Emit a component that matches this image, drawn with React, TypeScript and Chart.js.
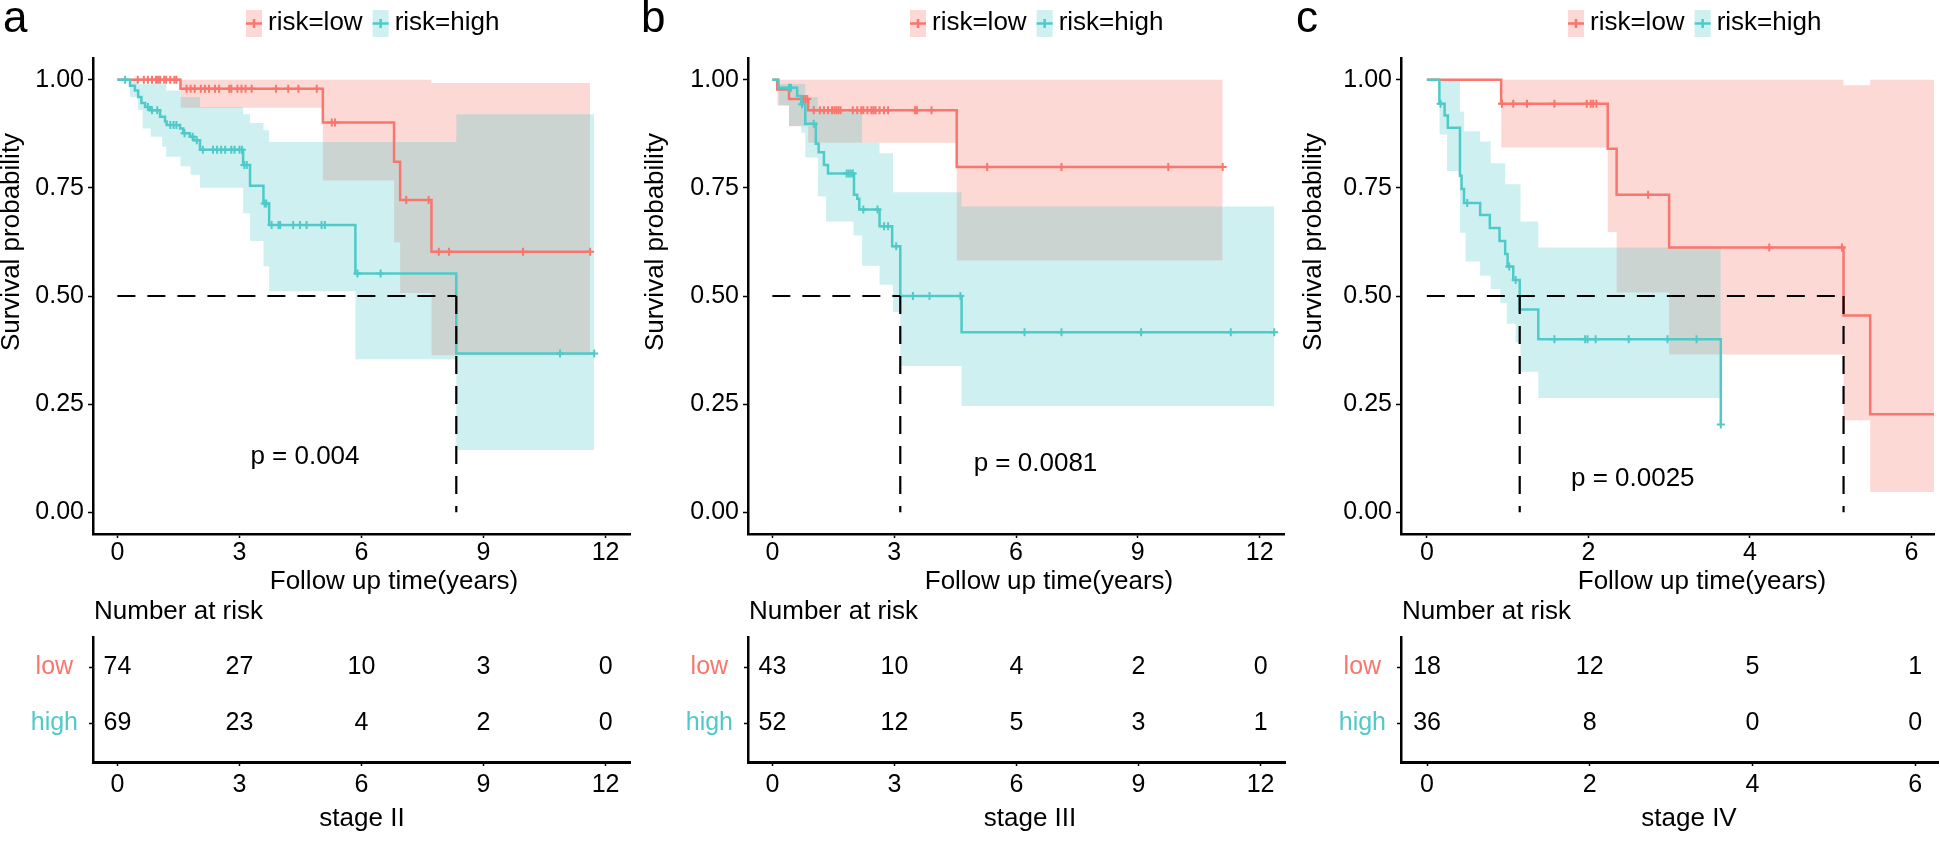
import React, { useEffect, useRef } from "react";
import { Chart, registerables } from "chart.js";

Chart.register(...registerables);

const FONT = "'Liberation Sans', Arial, Helvetica, sans-serif";
const RED = "rgb(248,118,109)";
const TEAL = "rgb(80,202,200)";
const RED_FILL = "rgba(248,118,109,0.28)";
const TEAL_FILL = "rgba(80,202,200,0.28)";

const Y_TICKS = [0, 0.25, 0.5, 0.75, 1];
const GROUP_LABELS = ["risk=low", "risk=high"];
const ROW_LABELS = ["low", "high"];

// ---------- panel a : stage II ----------
const A_LOW_T = [0, 1.55, 5.05, 6.8, 6.95, 7.72, 11.62];
const A_LOW_S = [1, 0.979, 0.901, 0.81, 0.722, 0.602, 0.602];
const A_LOW_CENS = [0.5, 0.65, 0.75, 0.85, 0.95, 1.0, 1.05, 1.15, 1.2, 1.3, 1.4, 1.45, 1.7, 1.8, 1.9, 2.05, 2.15, 2.25, 2.4, 2.5, 2.75, 2.8, 2.95, 3.05, 3.15, 3.3, 3.9, 4.2, 4.45, 4.9, 5.27, 5.35, 7.1, 7.65, 7.9, 8.15, 9.97, 11.62];
const A_LOW_BAND_T = [1.55, 5.05, 6.8, 6.95, 7.72, 11.62];
const A_LOW_BAND_LO = [0.935, 0.767, 0.624, 0.507, 0.363, 0.363];
const A_LOW_BAND_HI = [1, 1, 1, 1, 0.992, 0.992];

const A_HIGH_T = [0, 0.31, 0.43, 0.51, 0.59, 0.68, 0.8, 1.05, 1.17, 1.21, 1.54, 1.62, 1.78, 1.87, 2.03, 3.09, 3.26, 3.59, 3.73, 5.85, 8.33, 11.72];
const A_HIGH_S = [1, 0.986, 0.975, 0.96, 0.946, 0.937, 0.929, 0.914, 0.903, 0.895, 0.887, 0.876, 0.868, 0.86, 0.838, 0.803, 0.755, 0.714, 0.664, 0.552, 0.367, 0.367];
const A_HIGH_CENS = [0.19, 0.75, 0.85, 0.98, 1.3, 1.38, 1.45, 1.65, 1.85, 1.95, 2.1, 2.35, 2.45, 2.55, 2.65, 2.8, 2.88, 3.0, 3.06, 3.12, 3.18, 3.62, 3.66, 3.79, 3.96, 4.0, 4.32, 4.49, 4.65, 5.02, 5.1, 5.9, 6.47, 10.88, 11.72];
const A_HIGH_BAND_T = [0.31, 0.5, 0.62, 0.82, 1.1, 1.2, 1.55, 1.8, 2.03, 3.09, 3.26, 3.59, 3.73, 5.85, 8.33, 11.72];
const A_HIGH_BAND_HI = [1, 0.99, 0.99, 0.99, 0.99, 0.975, 0.96, 0.96, 0.937, 0.92, 0.9, 0.883, 0.856, 0.856, 0.92, 0.92];
const A_HIGH_BAND_LO = [0.96, 0.93, 0.887, 0.868, 0.845, 0.822, 0.8, 0.78, 0.75, 0.691, 0.627, 0.569, 0.511, 0.354, 0.144, 0.144];

const A_MEDIANS = [8.33];
const A_PVALUE = "p = 0.004";
const A_RISK_TIMES = [0, 3, 6, 9, 12];
const A_RISK_LOW = [74, 27, 10, 3, 0];
const A_RISK_HIGH = [69, 23, 4, 2, 0];

// ---------- panel b : stage III ----------
const B_LOW_T = [0, 0.12, 0.41, 0.88, 4.54, 11.09];
const B_LOW_S = [1, 0.977, 0.955, 0.929, 0.798, 0.798];
const B_LOW_CENS = [0.71, 0.76, 0.81, 0.86, 1.02, 1.17, 1.27, 1.37, 1.47, 1.53, 1.58, 1.63, 1.68, 1.98, 2.09, 2.19, 2.24, 2.34, 2.44, 2.49, 2.54, 2.64, 2.75, 2.85, 3.51, 3.56, 3.92, 5.29, 7.12, 9.75, 11.09];
const B_LOW_BAND_T = [0.12, 0.41, 0.88, 4.54, 11.09];
const B_LOW_BAND_LO = [0.94, 0.892, 0.854, 0.582, 0.582];
const B_LOW_BAND_HI = [1, 1, 1, 1, 1];

const B_HIGH_T = [0, 0.15, 0.61, 0.71, 0.81, 1.07, 1.14, 1.27, 1.37, 2.01, 2.09, 2.14, 2.64, 2.95, 3.15, 4.66, 12.36];
const B_HIGH_S = [1, 0.981, 0.962, 0.943, 0.898, 0.852, 0.832, 0.803, 0.783, 0.734, 0.725, 0.7, 0.661, 0.615, 0.5, 0.416, 0.416];
const B_HIGH_CENS = [0.41, 0.46, 0.73, 1.02, 1.83, 1.88, 1.93, 1.98, 2.24, 2.59, 2.75, 2.85, 3.05, 3.46, 3.87, 4.63, 6.21, 7.12, 9.08, 11.29, 12.36];
const B_HIGH_BAND_T = [0.15, 0.41, 0.71, 0.81, 1.12, 1.32, 2.0, 2.21, 2.64, 2.97, 3.15, 4.66, 12.36];
const B_HIGH_BAND_HI = [0.99, 0.99, 0.99, 0.96, 0.93, 0.93, 0.93, 0.854, 0.83, 0.74, 0.74, 0.707, 0.707];
const B_HIGH_BAND_LO = [0.94, 0.893, 0.877, 0.82, 0.73, 0.672, 0.64, 0.57, 0.526, 0.463, 0.338, 0.246, 0.246];

const B_MEDIANS = [3.15];
const B_PVALUE = "p = 0.0081";
const B_RISK_TIMES = [0, 3, 6, 9, 12];
const B_RISK_LOW = [43, 10, 4, 2, 0];
const B_RISK_HIGH = [52, 12, 5, 3, 1];

// ---------- panel c : stage IV ----------
const C_LOW_T = [0, 0.92, 2.24, 2.35, 3.0, 5.16, 5.49, 6.3];
const C_LOW_S = [1, 0.944, 0.84, 0.734, 0.612, 0.455, 0.227, 0.227];
const C_LOW_CENS = [0.93, 1.07, 1.24, 1.58, 1.98, 2.03, 2.06, 2.1, 2.74, 4.24, 5.14];
const C_LOW_BAND_T = [0.92, 2.24, 2.35, 3.0, 5.16, 5.49, 6.3];
const C_LOW_BAND_LO = [0.843, 0.648, 0.508, 0.365, 0.213, 0.047, 0.047];
const C_LOW_BAND_HI = [1, 1, 1, 1, 0.987, 1, 1];

const C_HIGH_T = [0, 0.155, 0.22, 0.26, 0.41, 0.43, 0.46, 0.66, 0.78, 0.9, 0.97, 1.0, 1.07, 1.15, 1.38, 3.64];
const C_HIGH_S = [1, 0.944, 0.917, 0.889, 0.778, 0.747, 0.715, 0.687, 0.657, 0.627, 0.597, 0.568, 0.537, 0.469, 0.4, 0.203];
const C_HIGH_CENS = [0.17, 0.5, 1.02, 1.1, 1.58, 1.96, 1.99, 2.09, 2.5, 2.98, 3.34, 3.64];
const C_HIGH_BAND_T = [0.155, 0.25, 0.41, 0.46, 0.48, 0.66, 0.79, 0.91, 0.97, 0.99, 1.1, 1.16, 1.38, 3.64];
const C_HIGH_BAND_HI = [1, 1, 0.926, 0.881, 0.881, 0.857, 0.807, 0.807, 0.758, 0.758, 0.758, 0.672, 0.612, 0.612];
const C_HIGH_BAND_LO = [0.873, 0.789, 0.646, 0.646, 0.58, 0.547, 0.516, 0.484, 0.484, 0.436, 0.393, 0.325, 0.264, 0.264];

const C_MEDIANS = [1.15, 5.16];
const C_PVALUE = "p = 0.0025";
const C_RISK_TIMES = [0, 2, 4, 6];
const C_RISK_LOW = [18, 12, 5, 1];
const C_RISK_HIGH = [36, 8, 0, 0];

// ---------- panel assembly (layout + references to the arrays above) ----------
const grp = (t: number[], s: number[], cens: number[], bt: number[], lo: number[], hi: number[], color: string, fill: string) =>
  ({ t, s, cens, bandT: bt, bandLo: lo, bandHi: hi, color, fill });

const PANELS: any[] = [
  {
    letter: "a", stage: "stage II",
    low: grp(A_LOW_T, A_LOW_S, A_LOW_CENS, A_LOW_BAND_T, A_LOW_BAND_LO, A_LOW_BAND_HI, RED, RED_FILL),
    high: grp(A_HIGH_T, A_HIGH_S, A_HIGH_CENS, A_HIGH_BAND_T, A_HIGH_BAND_LO, A_HIGH_BAND_HI, TEAL, TEAL_FILL),
    medians: A_MEDIANS, p: A_PVALUE, pX: 4.61, pY: 0.128,
    xMin: -0.6, xMax: 12.6, xTicks: A_RISK_TIMES,
    riskTimes: A_RISK_TIMES, riskLow: A_RISK_LOW, riskHigh: A_RISK_HIGH,
    canvasLeft: 0, canvasWidth: 645, yW: 93, padR: 15, legendX: 246, letterX: 3, yTitleX: 12, stageX: 362,
  },
  {
    letter: "b", stage: "stage III",
    low: grp(B_LOW_T, B_LOW_S, B_LOW_CENS, B_LOW_BAND_T, B_LOW_BAND_LO, B_LOW_BAND_HI, RED, RED_FILL),
    high: grp(B_HIGH_T, B_HIGH_S, B_HIGH_CENS, B_HIGH_BAND_T, B_HIGH_BAND_LO, B_HIGH_BAND_HI, TEAL, TEAL_FILL),
    medians: B_MEDIANS, p: B_PVALUE, pX: 6.48, pY: 0.113,
    xMin: -0.6, xMax: 12.6, xTicks: B_RISK_TIMES,
    riskTimes: B_RISK_TIMES, riskLow: B_RISK_LOW, riskHigh: B_RISK_HIGH,
    canvasLeft: 640, canvasWidth: 650, yW: 108, padR: 5, legendX: 270, letterX: 1, yTitleX: 16, stageX: 390,
  },
  {
    letter: "c", stage: "stage IV",
    low: grp(C_LOW_T, C_LOW_S, C_LOW_CENS, C_LOW_BAND_T, C_LOW_BAND_LO, C_LOW_BAND_HI, RED, RED_FILL),
    high: grp(C_HIGH_T, C_HIGH_S, C_HIGH_CENS, C_HIGH_BAND_T, C_HIGH_BAND_LO, C_HIGH_BAND_HI, TEAL, TEAL_FILL),
    medians: C_MEDIANS, p: C_PVALUE, pX: 2.55, pY: 0.078,
    xMin: -0.32, xMax: 6.28, xTicks: C_RISK_TIMES,
    riskTimes: C_RISK_TIMES, riskLow: C_RISK_LOW, riskHigh: C_RISK_HIGH,
    canvasLeft: 1290, canvasWidth: 650, yW: 111, padR: 2, legendX: 278, letterX: 6, yTitleX: 24, stageX: 399,
  },
];

const KM_H = 600;
const TABLE_TOP = 590;
const TABLE_H = 251;
const LOW_ROW = 0.76;
const HIGH_ROW = 0.31;

const stepAt = (T: number[], S: number[], t: number) => {
  let v = S[0];
  for (let i = 0; i < T.length; i++) if (T[i] <= t) v = S[i];
  return v;
};
const xy = (T: number[], V: number[]) => T.map((t, i) => ({ x: t, y: V[i] }));

const tickFont = { family: FONT, size: 25 };

function kmConfig(P: any) {
  const dash = [18, 12];
  const maxMed = Math.max(...P.medians);
  const dashed = (pts: any[]) => ({
    data: pts, borderColor: "#000", borderWidth: 2.2, borderDash: dash, pointRadius: 0, fill: false,
  });
  const datasets: any[] = [];
  datasets.push(dashed([{ x: 0, y: 0.5 }, { x: maxMed, y: 0.5 }]));
  P.medians.forEach((m: number) => datasets.push(dashed([{ x: m, y: 0.5 }, { x: m, y: 0 }])));
  for (const g of [P.high, P.low]) {
    datasets.push({
      data: g.cens.map((t: number) => ({ x: t, y: stepAt(g.t, g.s, t) })),
      showLine: false, pointStyle: "cross", pointRadius: 4, borderColor: g.color, borderWidth: 2, fill: false,
    });
    datasets.push({
      data: xy(g.t, g.s), stepped: "before", borderColor: g.color, borderWidth: 2.5, pointRadius: 0, fill: false,
    });
  }
  for (const g of [P.high, P.low]) {
    datasets.push({
      data: xy(g.bandT, g.bandHi), stepped: "before", borderWidth: 0, borderColor: "rgba(0,0,0,0)",
      pointRadius: 0, backgroundColor: g.fill, fill: "+1",
    });
    datasets.push({
      data: xy(g.bandT, g.bandLo), stepped: "before", borderWidth: 0, borderColor: "rgba(0,0,0,0)",
      pointRadius: 0, fill: false,
    });
  }

  const textPlugin = {
    id: "kmText",
    afterDraw(chart: any) {
      const ctx = chart.ctx;
      const a = chart.chartArea;
      ctx.save();
      ctx.fillStyle = "#000";
      ctx.textAlign = "left";
      ctx.textBaseline = "alphabetic";
      ctx.font = `44px ${FONT}`;
      ctx.fillText(P.letter, P.letterX, 32);
      // legend
      ctx.font = `26px ${FONT}`;
      let x = P.legendX;
      [[P.low, GROUP_LABELS[0]], [P.high, GROUP_LABELS[1]]].forEach(([g, lab]: any) => {
        ctx.fillStyle = g.fill;
        ctx.fillRect(x, 10, 16, 27);
        ctx.strokeStyle = g.color;
        ctx.lineWidth = 2.5;
        ctx.beginPath();
        ctx.moveTo(x, 23.5);
        ctx.lineTo(x + 16, 23.5);
        ctx.moveTo(x + 8, 19);
        ctx.lineTo(x + 8, 28);
        ctx.stroke();
        ctx.fillStyle = "#000";
        ctx.fillText(lab, x + 22, 29.5);
        x += 22 + ctx.measureText(lab).width + 10;
      });
      // y title
      ctx.save();
      ctx.translate(P.yTitleX, 242);
      ctx.rotate(-Math.PI / 2);
      ctx.textAlign = "center";
      ctx.textBaseline = "middle";
      ctx.fillText("Survival probability", 0, 0);
      ctx.restore();
      // x title
      ctx.textAlign = "center";
      ctx.textBaseline = "alphabetic";
      ctx.fillText("Follow up time(years)", a.left + 301, 589);
      // p value
      ctx.textBaseline = "middle";
      ctx.fillText(P.p, chart.scales.x.getPixelForValue(P.pX), chart.scales.y.getPixelForValue(P.pY));
      ctx.restore();
    },
  };

  return {
    type: "line",
    data: { datasets },
    options: {
      animation: false, responsive: false, devicePixelRatio: 1, events: [],
      layout: { padding: { left: 0, right: P.padR, top: 58, bottom: 0 } },
      plugins: {
        legend: { display: false }, tooltip: { enabled: false },
        filler: { drawTime: "beforeDatasetsDraw", propagate: false },
      },
      elements: { line: { tension: 0 } },
      scales: {
        x: {
          type: "linear", min: P.xMin, max: P.xMax,
          afterBuildTicks: (s: any) => { s.ticks = P.xTicks.map((v: number) => ({ value: v })); },
          afterFit: (s: any) => { s.height = KM_H - 534; },
          ticks: { color: "#000", font: tickFont, padding: 0, maxRotation: 0, autoSkip: false, callback: (v: any) => String(v) },
          grid: { drawOnChartArea: false, drawTicks: true, tickLength: 4, tickWidth: 1.5, tickColor: "#000" },
          border: { display: true, color: "#000", width: 2.5 },
        },
        y: {
          type: "linear", min: -0.05, max: 1.05,
          afterBuildTicks: (s: any) => { s.ticks = Y_TICKS.map((v) => ({ value: v })); },
          afterFit: (s: any) => { s.width = P.yW; },
          ticks: { color: "#000", font: tickFont, padding: 4, callback: (v: any) => Number(v).toFixed(2) },
          grid: { drawOnChartArea: false, drawTicks: true, tickLength: 5, tickWidth: 1.5, tickColor: "#000" },
          border: { display: true, color: "#000", width: 2.5 },
        },
      },
    },
    plugins: [textPlugin],
  };
}

function riskConfig(P: any) {
  const textPlugin = {
    id: "riskText",
    afterDatasetsDraw(chart: any) {
      const ctx = chart.ctx;
      const a = chart.chartArea;
      ctx.save();
      ctx.fillStyle = "#000";
      ctx.font = `25px ${FONT}`;
      ctx.textAlign = "center";
      ctx.textBaseline = "middle";
      chart.data.datasets.forEach((ds: any, i: number) => {
        const meta = chart.getDatasetMeta(i);
        meta.data.forEach((el: any, j: number) => ctx.fillText(String(ds.counts[j]), el.x, el.y));
      });
      ctx.font = `26px ${FONT}`;
      ctx.textAlign = "left";
      ctx.textBaseline = "alphabetic";
      ctx.fillText("Number at risk", a.left + 1, 29);
      ctx.textAlign = "center";
      ctx.fillText(P.stage, P.stageX, 236);
      ctx.restore();
    },
  };
  return {
    type: "scatter",
    data: {
      datasets: [
        { data: P.riskTimes.map((t: number) => ({ x: t, y: LOW_ROW })), counts: P.riskLow, pointRadius: 0 },
        { data: P.riskTimes.map((t: number) => ({ x: t, y: HIGH_ROW })), counts: P.riskHigh, pointRadius: 0 },
      ],
    },
    options: {
      animation: false, responsive: false, devicePixelRatio: 1, events: [],
      layout: { padding: { left: 0, right: P.padR, top: 47, bottom: 0 } },
      plugins: { legend: { display: false }, tooltip: { enabled: false } },
      scales: {
        x: {
          type: "linear", min: P.xMin, max: P.xMax,
          afterBuildTicks: (s: any) => { s.ticks = P.xTicks.map((v: number) => ({ value: v })); },
          afterFit: (s: any) => { s.height = TABLE_H - (762 - TABLE_TOP); },
          ticks: { color: "#000", font: tickFont, padding: 4, maxRotation: 0, autoSkip: false, callback: (v: any) => String(v) },
          grid: { drawOnChartArea: false, drawTicks: true, tickLength: 4, tickWidth: 1.5, tickColor: "#000" },
          border: { display: true, color: "#000", width: 3 },
        },
        y: {
          type: "linear", min: 0, max: 1,
          afterBuildTicks: (s: any) => { s.ticks = [{ value: HIGH_ROW }, { value: LOW_ROW }]; },
          afterFit: (s: any) => { s.width = P.yW; },
          ticks: {
            font: tickFont, padding: 11, crossAlign: "center",
            callback: (_v: any, i: number) => (i === 0 ? ROW_LABELS[1] : ROW_LABELS[0]),
            color: (c: any) => (c.index === 0 ? TEAL : RED),
          },
          grid: { drawOnChartArea: false, drawTicks: true, tickLength: 4, tickWidth: 1.5, tickColor: "#000" },
          border: { display: true, color: "#000", width: 2.5 },
        },
      },
    },
    plugins: [textPlugin],
  };
}

export default function App() {
  const canvases = useRef<(HTMLCanvasElement | null)[]>([]);

  useEffect(() => {
    document.body.style.margin = "0";
    document.body.style.overflow = "hidden";
    const charts: Chart[] = [];
    PANELS.forEach((P, i) => {
      const km = canvases.current[2 * i];
      const rt = canvases.current[2 * i + 1];
      if (km) charts.push(new Chart(km, kmConfig(P) as any));
      if (rt) charts.push(new Chart(rt, riskConfig(P) as any));
    });
    return () => charts.forEach((c) => c.destroy());
  }, []);

  return (
    <div style={{ position: "absolute", left: 0, top: 0, width: 1940, height: 841, overflow: "hidden", background: "#fff" }}>
      {PANELS.map((P, i) => (
        <React.Fragment key={i}>
          <canvas
            ref={(el) => { canvases.current[2 * i] = el; }}
            width={P.canvasWidth}
            height={KM_H}
            style={{ position: "absolute", left: P.canvasLeft, top: 0, width: P.canvasWidth, height: KM_H }}
          />
          <canvas
            ref={(el) => { canvases.current[2 * i + 1] = el; }}
            width={P.canvasWidth}
            height={TABLE_H}
            style={{ position: "absolute", left: P.canvasLeft, top: TABLE_TOP, width: P.canvasWidth, height: TABLE_H }}
          />
        </React.Fragment>
      ))}
    </div>
  );
}
